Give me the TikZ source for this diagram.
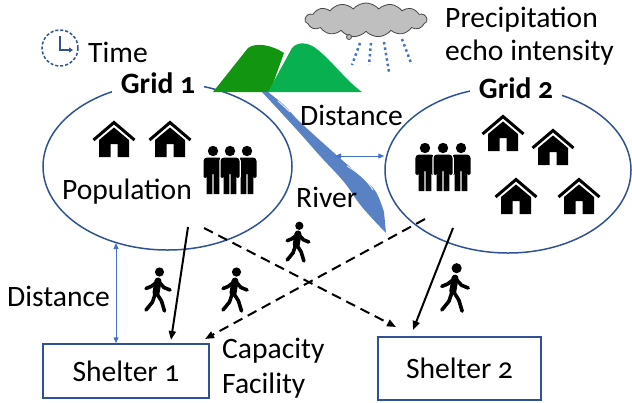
\documentclass[tikz,border=0pt]{standalone}
\usepackage{fontspec}
\setmainfont{Carlito}[Numbers=OldStyle]
\usetikzlibrary{arrows.meta,shapes.geometric,shapes.symbols}

\definecolor{gridblue}{RGB}{47,82,150}
\definecolor{linkblue}{RGB}{68,114,196}
\definecolor{riverblue}{RGB}{88,130,196}
\definecolor{hillA}{RGB}{18,150,18}
\definecolor{hillB}{RGB}{8,176,80}
\definecolor{cloudgray}{RGB}{191,191,191}
\definecolor{cloudline}{RGB}{70,70,70}

\tikzset{
  lbl/.style={font=\fontsize{29.7}{33}\selectfont, inner sep=0pt},
  gridlbl/.style={font=\fontsize{29.7}{33}\selectfont\bfseries, fill=white, inner xsep=9bp, inner ysep=2bp},
  zone/.style={ellipse, draw=gridblue, line width=1.5bp, inner sep=0pt},
  shelter/.style={draw=gridblue, line width=1.5bp, font=\fontsize{29.7}{33}\selectfont, inner sep=0pt},
  route/.style={line width=2bp, -{Triangle[length=9bp,width=7bp]}},
  altroute/.style={route, dash pattern=on 10bp off 6bp},
  distarrow/.style={linkblue, line width=1bp, {Triangle[length=6bp,width=5bp]}-{Triangle[length=6bp,width=5bp]}},
  % house icon: roof chevron over a body with a door
  house/.pic={
    \draw[line width=3bp] (-20.5,19) -- (0,1.5) -- (20.5,19);
    \fill (-15,19) -- (0,6.5) -- (15,19) -- (15,36) -- (3.5,36) -- (3.5,23)
          -- (-3.5,23) -- (-3.5,36) -- (-15,36) -- cycle;
  },
  % standing figure
  man/.pic={
    \path[pic actions] (0,-19) circle[radius=5.2]
      [rounded corners=3.5] (-9.5,-12.5) rectangle (9.5,4) [sharp corners]
      (-6.3,0) rectangle (-0.7,24)
      (0.7,0) rectangle (6.3,24)
      [rounded corners=1.5] (-9.5,-9) rectangle (-6.2,8)
      (6.2,-9) rectangle (9.5,8);
  },
  % walking figure
  walker/.pic={
    \fill (1.5,-18) circle[radius=4.6];
    \draw[line width=7bp, line cap=round] (0,-9) -- (-2,3);
    \draw[line width=3.6bp, line cap=round, line join=round]
      (-1,-8) -- (-7,-3.5) -- (-12,-1.5)
      (1,-8) -- (6,-2.5) -- (12,0)
      (-2.5,3) -- (-5.5,12) -- (-12,20)
      (-1.5,3) -- (3.5,11) -- (6.5,21);
  }
}

\newcommand\crowd[2]{%
  \pic[fill=white, draw=white, line width=2.5bp] at (#1-17,#2) {man};
  \pic[fill=black] at (#1-17,#2) {man};
  \pic[fill=white, draw=white, line width=2.5bp] at (#1+17,#2) {man};
  \pic[fill=black] at (#1+17,#2) {man};
  \pic[fill=white, draw=white, line width=2.5bp] at (#1,#2) {man};
  \pic[fill=black] at (#1,#2) {man};}

\begin{document}
\begin{tikzpicture}[x=1bp,y=-1bp]
\useasboundingbox (0,0) rectangle (632,402);

% clock
\draw[gridblue, line width=1.5bp, dash pattern=on 3bp off 2bp] (60,48) circle[radius=18];
\draw[gridblue, line width=2bp, -{Triangle[length=4bp,width=5bp]}] (60,36) -- (60,50) -- (73,50);
\node[lbl, anchor=base west] (time) at (88,62) {Time};

% grids
\node[zone, minimum width=249bp, minimum height=167bp] (g1) at (167.5,166.5) {};
\node[zone, minimum width=246bp, minimum height=166bp] (g2) at (508,170) {};
\node[gridlbl, anchor=base] (g1lbl) at (158,93) {Grid 1};
\node[gridlbl, anchor=base] (g2lbl) at (516,98) {Grid 2};

% hills
\fill[hillA] (213,92) -- (248,48) .. controls (256,42) and (272,45) .. (284,53) -- (270,92) -- cycle;
\fill[hillB] (268,92) -- (292,48) .. controls (297,42) and (306,42) .. (314,47)
  .. controls (330,58) and (345,80) .. (362,92) -- cycle;

% river
\fill[riverblue] plot[smooth, tension=0.6] coordinates {(262,92) (297,130) (321,157) (344,182) (362,207) (386,233)}
  -- plot[smooth, tension=0.6] coordinates {(384,212) (376,192) (362,177) (342,160) (300,122) (285,106) (268,92)} -- cycle;
\draw[white, line width=0.8bp] (278,101) -- (290,112);
\draw[white, line width=0.8bp] (347,166) .. controls (357,172) and (367,180) .. (373,190);

% cloud and rain
\node[cloud, cloud puffs=15, cloud puff arc=100, aspect=3.6, draw=cloudline, fill=cloudgray,
      line width=0.8bp, minimum width=122bp, minimum height=34bp, inner sep=0pt] (cloud1) at (366,20) {};
\draw[cloudline, fill=cloudgray, line width=0.8bp] (349,37) circle[radius=2.5];
\foreach \a/\b/\c/\d in {360/43/352/65, 371/43/369/65, 384/42/389/72, 402/39/411/63}
  \draw[linkblue, line width=2.5bp, dash pattern=on 2.5bp off 3bp] (\a,\b) -- (\c,\d);
\node[lbl, anchor=base west] (prec1) at (445,27) {Precipitation};
\node[lbl, anchor=base west] (prec2) at (445,60) {echo intensity};

% icons in grid 1
\pic at (114,121) {house};
\pic at (170,121) {house};
\crowd{230}{170}
\node[lbl, anchor=base] (pop) at (127,199) {Population};

% icons in grid 2
\pic at (503,115) {house};
\pic at (553,129) {house};
\pic at (516,178) {house};
\pic at (579,178) {house};
\begin{scope}[shift={(443,167)}, scale=1.06]
  \crowd{0}{0}
\end{scope}

% labels
\node[lbl, anchor=base west] (dist2) at (300,125) {Distance};
\node[lbl, anchor=base west] (river) at (296,207) {River};
\node[lbl, anchor=base west] (dist1) at (7,306) {Distance};
\node[lbl, anchor=base west] (cap) at (222,358) {Capacity};
\node[lbl, anchor=base west] (fac) at (222,393) {Facility};

% shelters
\node[shelter, minimum width=166bp, minimum height=54bp] (s1) at (126,371) {Shelter 1};
\node[shelter, minimum width=163bp, minimum height=63bp] (s2) at (459.5,368.5) {Shelter 2};

% walkers
\pic[scale=0.9] at (298,242) {walker};
\pic at (158,290) {walker};
\pic at (235,290) {walker};
\pic[scale=1.1] at (455,288) {walker};

% distance arrows
\coordinate (d1) at (116,243);
\draw[distarrow] (d1) -- (s1.north -| d1);
\coordinate (d2) at (335,156);
\draw[distarrow] (d2) -- (d2 -| g2.west);

% evacuation routes
\coordinate (r1a) at (188,227);  \coordinate (r1b) at (171,340);
\coordinate (r2a) at (204,228);  \coordinate (r2b) at (396,327);
\coordinate (r3a) at (425,219);  \coordinate (r3b) at (205,339);
\coordinate (r4a) at (453,228);  \coordinate (r4b) at (413,330);
\draw[route] (r1a) -- (r1b);
\draw[altroute] (r2a) -- (r2b);
\draw[altroute] (r3a) -- (r3b);
\draw[route] (r4a) -- (r4b);
\end{tikzpicture}
\end{document}
